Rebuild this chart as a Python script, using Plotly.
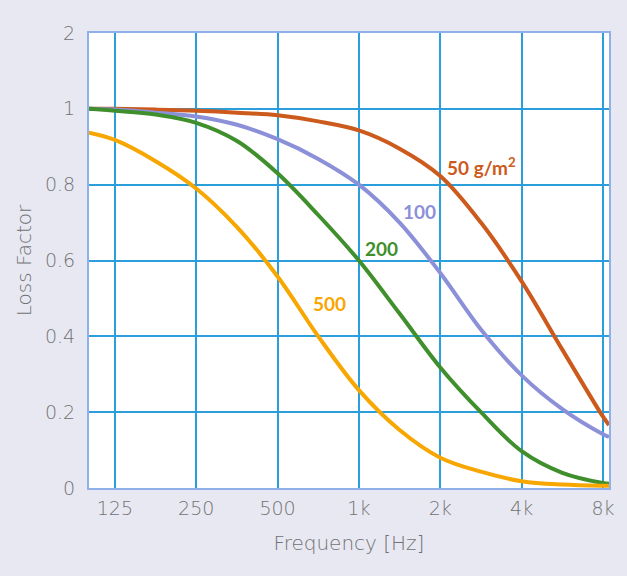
import math
import plotly.graph_objects as go

# frequencies (Hz) at half-octave steps, last point = right edge of plot
freq = [100, 125, 177, 250, 354, 500, 707, 1000, 1414, 2000, 2828, 4000, 5657, 8000, 8420]

loss_50 = [1.0, 1.0, 0.998, 0.995, 0.99, 0.983, 0.967, 0.943, 0.895, 0.823, 0.70, 0.545, 0.365, 0.188, 0.166]
loss_100 = [1.0, 0.998, 0.99, 0.98, 0.958, 0.92, 0.868, 0.80, 0.70, 0.567, 0.418, 0.297, 0.208, 0.142, 0.135]
loss_200 = [1.0, 0.995, 0.985, 0.963, 0.915, 0.83, 0.72, 0.60, 0.46, 0.318, 0.2, 0.097, 0.04, 0.013, 0.011]
loss_500 = [0.937, 0.918, 0.862, 0.79, 0.688, 0.558, 0.40, 0.258, 0.153, 0.08, 0.043, 0.018, 0.009, 0.006, 0.006]

series_names = ["50 g/m²", "100", "200", "500"]
series_colors = ["#cc5a1c", "#8c90d8", "#3f8f2c", "#f8a600"]
series_values = [loss_50, loss_100, loss_200, loss_500]

# label anchor positions (data coordinates)
label_text = ["50 g/m<sup>2</sup>", "100", "200", "500"]
label_x = [2083, 1671, 1211, 779]
label_y = [0.847, 0.729, 0.632, 0.487]
label_anchor = ["left", "center", "center", "center"]

x_tickvals = [125, 250, 500, 1000, 2000, 4000, 8000]
x_ticktext = ["125", "250", "500", "1k", "2k", "4k", "8k"]
y_tickvals = [0, 0.2, 0.4, 0.6, 0.8, 1.0, 1.2]
y_ticktext = ["0", "0.2", "0.4", "0.6", "0.8", "1", "2"]

FONT = "DejaVu Sans, Lato, sans-serif"
LABEL_FONT = "Lato, Noto Sans, sans-serif"
TEXT_GREY = "#727272"

fig = go.Figure()
for name, color, vals in zip(series_names, series_colors, series_values):
    fig.add_trace(go.Scatter(
        x=freq, y=vals, mode="lines", name=name,
        line=dict(color=color, width=4, shape="spline", smoothing=1.0),
        showlegend=False, hoverinfo="skip",
    ))

for t, c, lx, ly, an in zip(label_text, series_colors, label_x, label_y, label_anchor):
    fig.add_annotation(
        x=math.log10(lx), y=ly, text=f"<b>{t}</b>", showarrow=False,
        xanchor=an, yanchor="middle",
        font=dict(family=LABEL_FONT, size=19, color=c),
    )

grid_color = "#2a9fdc"
fig.update_layout(
    width=627, height=576,
    margin=dict(l=89, r=15, t=33, b=88),
    paper_bgcolor="#e8e8f2",
    plot_bgcolor="#ffffff",
    font=dict(family=FONT, color=TEXT_GREY),
    xaxis=dict(
        type="log",
        range=[2.0013, 3.9253],
        tickvals=x_tickvals, ticktext=x_ticktext,
        showgrid=True, gridcolor=grid_color, gridwidth=1.5,
        zeroline=False,
        showline=True, linecolor="#8fb0e8", linewidth=2, mirror=True,
        ticks="", ticklabelstandoff=2,
        tickfont=dict(family=FONT, size=19, color=TEXT_GREY, weight=200),
        title=dict(text="Frequency [Hz]", font=dict(family=FONT, size=20, color=TEXT_GREY, weight=200), standoff=18),
    ),
    yaxis=dict(
        range=[0, 1.2],
        tickvals=y_tickvals, ticktext=y_ticktext,
        showgrid=True, gridcolor=grid_color, gridwidth=1.5,
        zeroline=False,
        showline=True, linecolor="#8fb0e8", linewidth=2, mirror=True,
        ticks="", ticklabelstandoff=8,
        tickfont=dict(family=FONT, size=19, color=TEXT_GREY, weight=200),
        title=dict(text="Loss Factor", font=dict(family=FONT, size=20, color=TEXT_GREY, weight=200), standoff=8),
    ),
)

fig.write_html("out.html", config={"displayModeBar": False},
               post_script="document.body.style.margin='0px';")
